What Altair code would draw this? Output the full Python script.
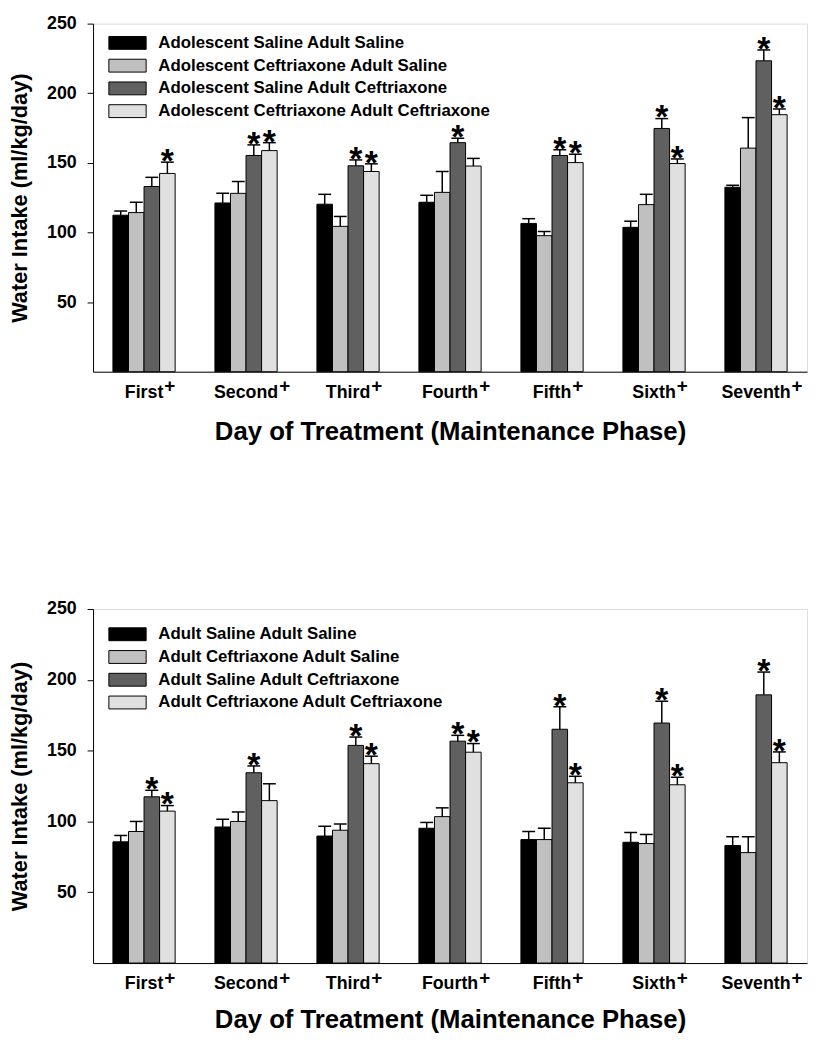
import altair as alt
import pandas as pd

days = ["First", "Second", "Third", "Fourth", "Fifth", "Sixth", "Seventh"]

groups_top = ["Adolescent Saline Adult Saline", "Adolescent Ceftriaxone Adult Saline",
              "Adolescent Saline Adult Ceftriaxone", "Adolescent Ceftriaxone Adult Ceftriaxone"]
top_ss = [112.4, 121.2, 120.3, 121.7, 106.5, 103.7, 132.5]
top_ss_err = [3.0, 6.9, 7.1, 5.0, 3.4, 4.4, 1.4]
top_cs = [114.3, 128.1, 104.4, 128.8, 97.7, 120.0, 160.6]
top_cs_err = [7.4, 8.5, 7.1, 15.0, 3.0, 7.4, 21.9]
top_sc = [133.0, 155.3, 147.9, 164.5, 155.3, 174.7, 223.3]
top_sc_err = [6.6, 7.6, 4.2, 3.2, 4.1, 7.1, 7.8]
top_cc = [142.4, 158.8, 143.8, 147.7, 150.2, 149.5, 184.6]
top_cc_err = [8.1, 5.7, 5.5, 5.5, 6.0, 3.3, 4.1]
top_ss_sig = [False] * 7
top_cs_sig = [False] * 7
top_sc_sig = [False, True, True, True, True, True, True]
top_cc_sig = [True, True, True, False, True, True, True]

groups_bot = ["Adult Saline Adult Saline", "Adult Ceftriaxone Adult Saline",
              "Adult Saline Adult Ceftriaxone", "Adult Ceftriaxone Adult Ceftriaxone"]
bot_ss = [85.6, 96.1, 89.7, 95.2, 87.2, 85.3, 83.0]
bot_ss_err = [4.5, 5.5, 6.9, 4.1, 5.7, 6.9, 6.2]
bot_cs = [92.9, 100.0, 93.8, 103.4, 87.2, 84.4, 78.0]
bot_cs_err = [7.1, 6.7, 4.4, 6.2, 8.0, 6.4, 11.2]
bot_sc = [117.4, 134.4, 153.7, 156.7, 165.1, 169.5, 189.4]
bot_sc_err = [4.6, 4.8, 5.9, 4.1, 15.9, 15.4, 16.1]
bot_cc = [107.3, 114.7, 140.8, 148.9, 127.3, 125.9, 141.5]
bot_cc_err = [3.9, 11.9, 5.3, 6.1, 4.6, 5.3, 7.6]
bot_ss_sig = [False] * 7
bot_cs_sig = [False] * 7
bot_sc_sig = [True] * 7
bot_cc_sig = [True, False, True, True, True, True, True]

colors = ["#000000", "#c0c0c0", "#606060", "#e0e0e0"]
FONT = "Liberation Sans"
Y_TITLE = "Water Intake (ml/kg/day)"
X_TITLE = "Day of Treatment (Maintenance Phase)"
XLABEL_SIZE = 18

# Arial/Liberation Sans Bold advance widths (per 1000 em) for the day labels
BOLD_W = {"F": 611, "i": 278, "r": 389, "s": 556, "t": 333, "S": 667, "e": 556, "c": 556,
          "o": 611, "n": 611, "d": 611, "T": 611, "h": 611, "u": 611, "f": 333, "x": 556,
          "v": 556}


def half_width(label):
    return sum(BOLD_W.get(ch, 600) for ch in label) * XLABEL_SIZE / 1000 / 2 + 1


def panel(groups, means, errs, sigs, height, title_pad, legend_y):
    rows = []
    for g, m_list, e_list, s_list in zip(groups, means, errs, sigs):
        for d, m, e, s in zip(days, m_list, e_list, s_list):
            rows.append({"day": d, "group": g, "mean": m, "top": m + e, "sig": s})
    df = pd.DataFrame(rows)
    plus_df = pd.DataFrame({"day": days, "pdx": [half_width(d) for d in days]})

    xscale = alt.Scale(paddingInner=0.39, paddingOuter=0.195)
    x = alt.X("day:N", sort=days, scale=xscale,
              axis=alt.Axis(title=X_TITLE, labelAngle=0, ticks=False, tickSize=0,
                            labelPadding=12, labelFontSize=XLABEL_SIZE, labelFontWeight="bold",
                            labelFont=FONT, titleFontSize=26, titleFontWeight="bold",
                            titleFont=FONT, titlePadding=title_pad, domainColor="black",
                            labelColor="black", titleColor="black"))
    xo = alt.XOffset("group:N", sort=groups,
                     scale=alt.Scale(domain=groups, paddingInner=0, paddingOuter=0))
    yscale = alt.Scale(domain=[0, 250], nice=False)
    y = alt.Y("mean:Q", scale=yscale, title=Y_TITLE,
              axis=alt.Axis(values=[50, 100, 150, 200, 250], grid=False, tickSize=6,
                            labelPadding=11, labelFontSize=18, labelFontWeight="bold",
                            labelFont=FONT, titleFontSize=22, titleFontWeight="bold",
                            titleFont=FONT, titlePadding=15, domainColor="black",
                            tickColor="black", labelColor="black", titleColor="black"))
    color = alt.Color("group:N", sort=groups,
                      scale=alt.Scale(domain=groups, range=colors),
                      legend=alt.Legend(title=None, orient="none", legendX=14, legendY=legend_y,
                                        symbolType="M-1,-1 h5.8 v2 h-5.8 z", symbolSize=169,
                                        symbolStrokeColor="black", symbolStrokeWidth=1,
                                        symbolOpacity=1, labelFontSize=17, labelFont=FONT,
                                        labelFontWeight="bold", labelColor="black",
                                        labelOffset=35, rowPadding=5, labelLimit=500))

    base = alt.Chart(df)
    bars = base.mark_bar(stroke="black", strokeWidth=1).encode(x=x, xOffset=xo, y=y, color=color)
    rule = base.mark_rule(color="black", strokeWidth=1.5).encode(
        x=x, xOffset=xo, y=alt.Y("mean:Q", scale=yscale, title=Y_TITLE), y2="top:Q")
    cap = base.mark_tick(color="black", thickness=1.5, size=13, opacity=1).encode(
        x=x, xOffset=xo, y=alt.Y("top:Q", scale=yscale, title=Y_TITLE))
    star = base.transform_filter("datum.sig").mark_text(
        text="*", fontSize=34, fontWeight="bold", font=FONT, baseline="alphabetic", dy=10,
        color="black").encode(
        x=x, xOffset=xo, y=alt.Y("top:Q", scale=yscale, title=Y_TITLE))
    plus = alt.Chart(plus_df).mark_text(
        text="+", fontSize=19, fontWeight="bold", font=FONT, align="left",
        baseline="alphabetic", color="black", dx=alt.ExprRef(expr="datum.pdx")).encode(
        x=alt.X("day:N", sort=days, scale=xscale), y=alt.value(height + 21))
    return alt.layer(bars, rule, cap, star, plus).properties(width=722, height=height)


top = panel(groups_top, [top_ss, top_cs, top_sc, top_cc],
            [top_ss_err, top_cs_err, top_sc_err, top_cc_err],
            [top_ss_sig, top_cs_sig, top_sc_sig, top_cc_sig], 352, 18, 11)
bot = panel(groups_bot, [bot_ss, bot_cs, bot_sc, bot_cc],
            [bot_ss_err, bot_cs_err, bot_sc_err, bot_cc_err],
            [bot_ss_sig, bot_cs_sig, bot_sc_sig, bot_cc_sig], 358, 14, 17)

chart = alt.vconcat(top, bot, spacing=155, padding=0).resolve_scale(
    color="independent", xOffset="independent", x="independent", y="independent"
).resolve_legend(color="independent").configure_view(stroke=None).configure(background="white")

chart.save("out.html", embed_options={"renderer": "svg", "actions": False})
